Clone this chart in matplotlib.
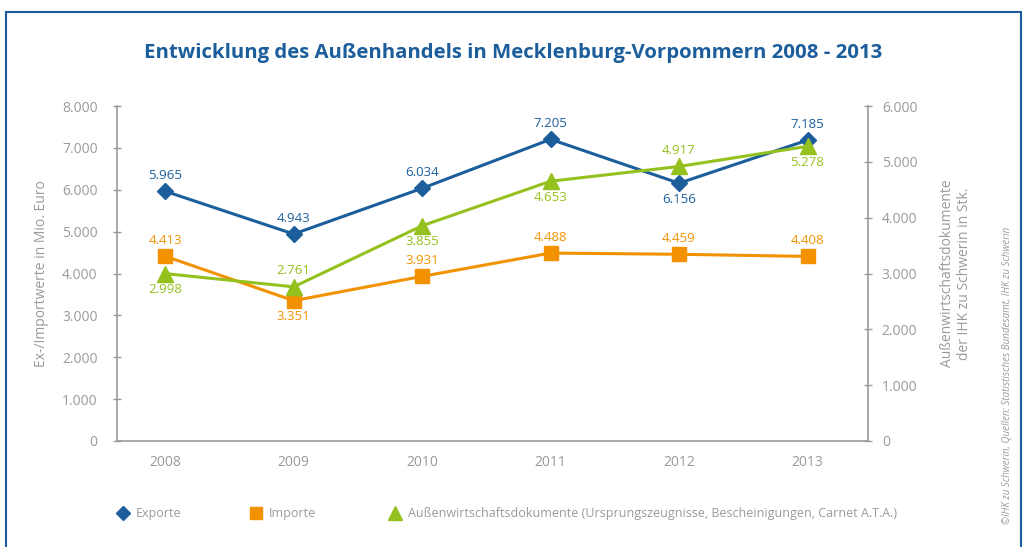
import matplotlib.pyplot as plt
from matplotlib.lines import Line2D
from matplotlib.patches import Rectangle
from matplotlib.ticker import FuncFormatter

years = ['2008', '2009', '2010', '2011', '2012', '2013']
exporte = [5965, 4943, 6034, 7205, 6156, 7185]
importe = [4413, 3351, 3931, 4488, 4459, 4408]
dokumente = [2998, 2761, 3855, 4653, 4917, 5278]

# where the value label sits: 1 above, -1 below
exp_pos = [1, 1, 1, 1, -1, 1]
imp_pos = [1, -1, 1, 1, 1, 1]
dok_pos = [-1, 1, -1, -1, 1, -1]

blue = '#1b5e9b'
orange = '#f39200'
green = '#95c11f'
gray = '#9a9a9a'

plt.rcParams['font.family'] = ['Open Sans', 'DejaVu Sans']

fig = plt.figure(figsize=(10.27, 5.47), dpi=100)
ax = fig.add_axes([0.1139, 0.1938, 0.7312, 0.6124])
ax2 = ax.twinx()

x = list(range(len(years)))
ax.plot(x, exporte, color=blue, lw=2.2, marker='D', ms=8, zorder=3)
ax.plot(x, importe, color=orange, lw=2.2, marker='s', ms=10, zorder=3)
ax2.plot(x, dokumente, color=green, lw=2.2, marker='^', ms=11, zorder=3)

def fmt(v):
    return f'{v:,.0f}'.replace(',', '.')

for a, vals, where, c in [(ax, exporte, exp_pos, blue), (ax, importe, imp_pos, orange),
                          (ax2, dokumente, dok_pos, green)]:
    for i, v in enumerate(vals):
        a.annotate(fmt(v), (i, v), xytext=(0, 11.5 * where[i]), textcoords='offset points',
                   ha='center', va='center', color=c, fontsize=9.5)

ax.set_xlim(-0.375, 5.47)
ax.set_ylim(0, 8000)
ax2.set_ylim(0, 6000)
ax.set_yticks(range(0, 8001, 1000))
ax2.set_yticks(range(0, 6001, 1000))
ax.set_xticks(x)
ax.set_xticklabels(years)
f = FuncFormatter(lambda v, p: fmt(v))
ax.yaxis.set_major_formatter(f)
ax2.yaxis.set_major_formatter(f)

for a in (ax, ax2):
    for s in a.spines.values():
        s.set_visible(False)
    a.tick_params(colors=gray, labelcolor=gray, labelsize=10, width=1, length=6)
ax.spines['left'].set_visible(True)
ax.spines['bottom'].set_visible(True)
ax2.spines['right'].set_visible(True)
for s in (ax.spines['left'], ax.spines['bottom'], ax2.spines['right']):
    s.set_color(gray)
    s.set_linewidth(1.2)
ax.tick_params(axis='y', direction='inout', pad=11)
ax2.tick_params(axis='y', direction='inout', pad=7)
ax.tick_params(axis='x', length=0, pad=10)

ax.set_ylabel('Ex-/Importwerte in Mio. Euro', color=gray, fontsize=10, labelpad=9)
ax2.set_ylabel('Außenwirtschaftsdokumente\nder IHK zu Schwerin in Stk.', color=gray,
               fontsize=10, rotation=90, labelpad=16)

fig.text(0.5, 0.903, 'Entwicklung des Außenhandels in Mecklenburg-Vorpommern 2008 - 2013',
         ha='center', va='center', color=blue, fontsize=14.7, fontweight='bold')

fig.text(0.981, 0.313, '©IHK zu Schwerin, Quellen: Statistisches Bundesamt, IHK zu Schwerin',
         rotation=90, ha='center', va='center', color=gray, fontsize=7, style='italic')

items = [
    (Line2D([], [], color=blue, marker='D', ls='none', ms=7), 'Exporte', 117),
    (Line2D([], [], color=orange, marker='s', ls='none', ms=9), 'Importe', 250),
    (Line2D([], [], color=green, marker='^', ls='none', ms=10),
     'Außenwirtschaftsdokumente (Ursprungszeugnisse, Bescheinigungen, Carnet A.T.A.)', 389),
]
for h, lab, px in items:
    leg = fig.legend([h], [lab], loc='center left', bbox_to_anchor=(px / 1027, 1 - 514 / 547),
                     frameon=False, fontsize=9, handlelength=1.0, handletextpad=0.5,
                     borderpad=0, borderaxespad=0)
    for t in leg.get_texts():
        t.set_color(gray)

fig.add_artist(Rectangle((0.0058, -0.01), 0.988, 0.988, transform=fig.transFigure,
                         fill=False, edgecolor=blue, lw=1.5))

fig.savefig('out.png', dpi=100)
